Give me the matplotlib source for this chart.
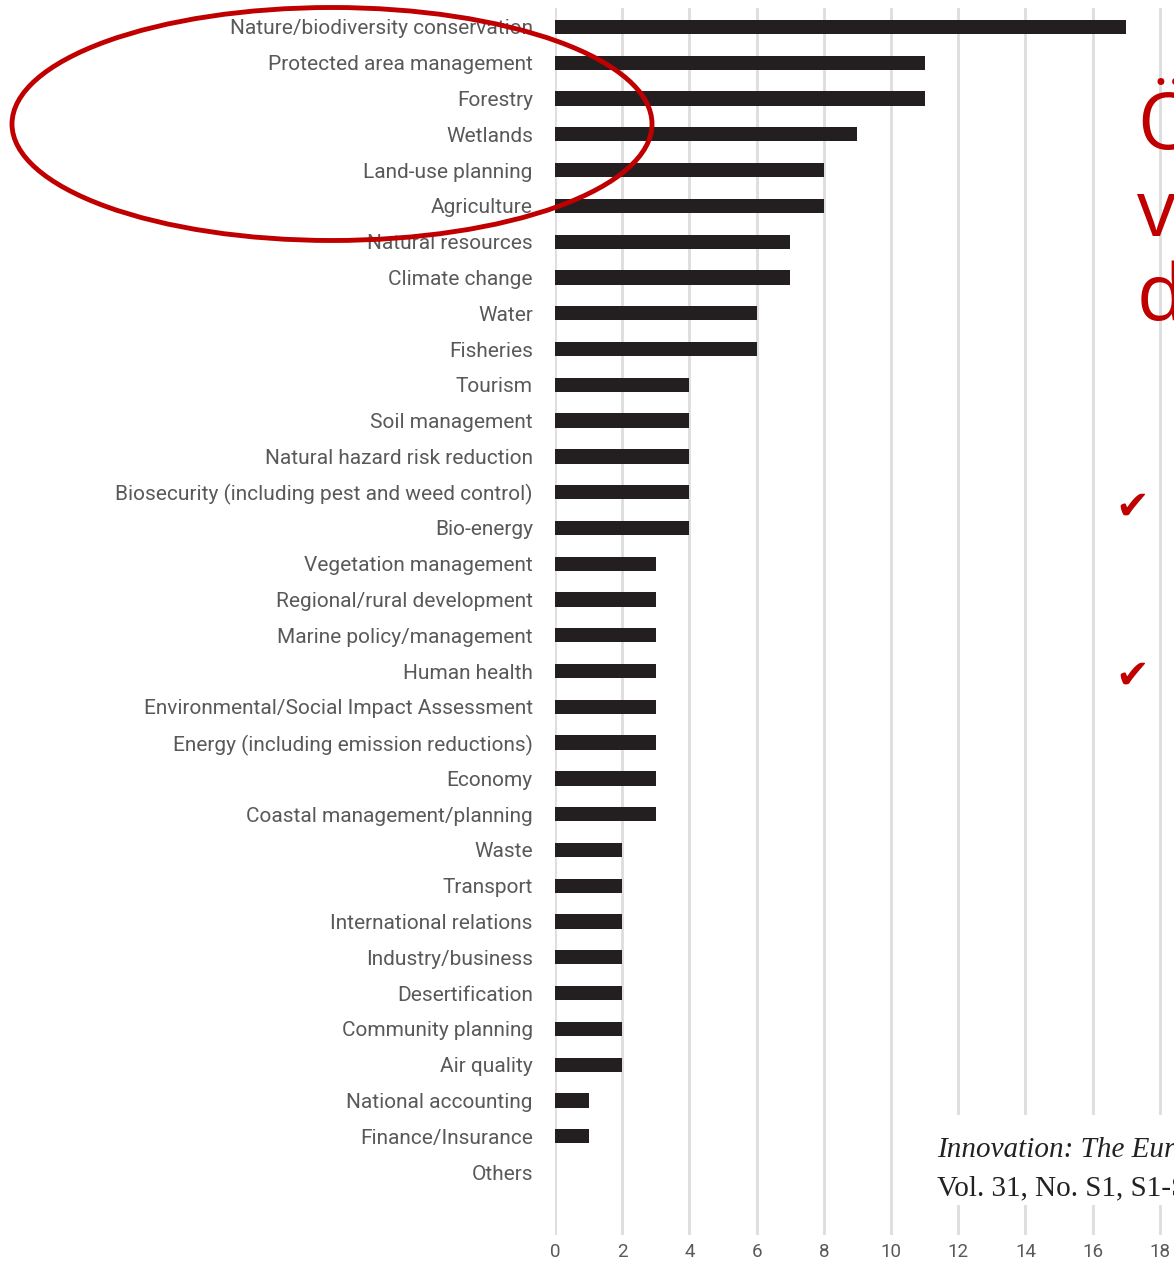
import matplotlib.pyplot as plt
import matplotlib.patches as patches

categories = ["Nature/biodiversity conservation", "Protected area management", "Forestry",
              "Wetlands", "Land-use planning", "Agriculture", "Natural resources",
              "Climate change", "Water", "Fisheries", "Tourism", "Soil management",
              "Natural hazard risk reduction", "Biosecurity (including pest and weed control)",
              "Bio-energy", "Vegetation management", "Regional/rural development",
              "Marine policy/management", "Human health",
              "Environmental/Social Impact Assessment", "Energy (including emission reductions)",
              "Economy", "Coastal management/planning", "Waste", "Transport",
              "International relations", "Industry/business", "Desertification",
              "Community planning", "Air quality", "National accounting",
              "Finance/Insurance", "Others"]
counts = [17, 11, 11, 9, 8, 8, 7, 7, 6, 6, 4, 4, 4, 4, 4, 3, 3, 3, 3, 3, 3, 3, 3,
          2, 2, 2, 2, 2, 2, 2, 1, 1, 0]
xticks = [0, 2, 4, 6, 8, 10, 12, 14, 16, 18]

red = "#C00000"
gray = "#595959"

W, H = 1174, 1264
fig = plt.figure(figsize=(W / 100, H / 100), dpi=100)
ax = fig.add_axes([555 / W, 1 - 1235 / H, 1 - 555 / W, (1235 - 8) / H])

pos = list(range(len(categories)))
ax.barh(pos, counts, height=0.4, color="#231F20", zorder=3)
ax.set_xlim(0, 18.42)
ax.set_ylim(32 + 1.76, -0.53)
ax.set_xticks(xticks)
ax.set_yticks(pos)
ax.set_yticklabels(categories, fontsize=15, color=gray, family="Roboto")
ax.set_xticklabels([str(t) for t in xticks], fontsize=13.5, color=gray, family="Roboto")
ax.tick_params(axis="y", length=0, pad=16)
ax.tick_params(axis="x", length=0, pad=6)
ax.grid(axis="x", color="#dddddd", linewidth=2, zorder=0)
for s in ax.spines.values():
    s.set_visible(False)

# citation box over the chart
fig.patches.append(patches.Rectangle((930 / W, 1 - 1205 / H), (W - 930) / W, 90 / H,
                                     transform=fig.transFigure, facecolor="white",
                                     edgecolor="none", zorder=5))
fig.text(937 / W, 1 - 1150 / H, "Innovation: The European Journal of Social Science Research",
         fontsize=21, family="Liberation Serif", style="italic", color="#222222",
         va="center", zorder=6)
fig.text(937 / W, 1 - 1188 / H, "Vol. 31, No. S1, S1-S9",
         fontsize=21, family="Liberation Serif", color="#222222", va="center", zorder=6)

# slide text on the right
for ch, y in [("Ö", 128), ("v", 215), ("d", 300)]:
    fig.text(1137 / W, 1 - y / H, ch, fontsize=56, family="Open Sans", color=red,
             va="center", ha="left", zorder=6)
for y in [508, 677]:
    fig.text(1132 / W, 1 - y / H, "✔", fontsize=29, family="DejaVu Sans", color=red,
             va="center", ha="center", zorder=6)

# red ellipse
fig.patches.append(patches.Ellipse((332 / W, 1 - 124 / H), 640 / W, 233 / H,
                                   transform=fig.transFigure, facecolor="none",
                                   edgecolor=red, linewidth=3.5, zorder=7))

fig.savefig("out.png", dpi=100)
